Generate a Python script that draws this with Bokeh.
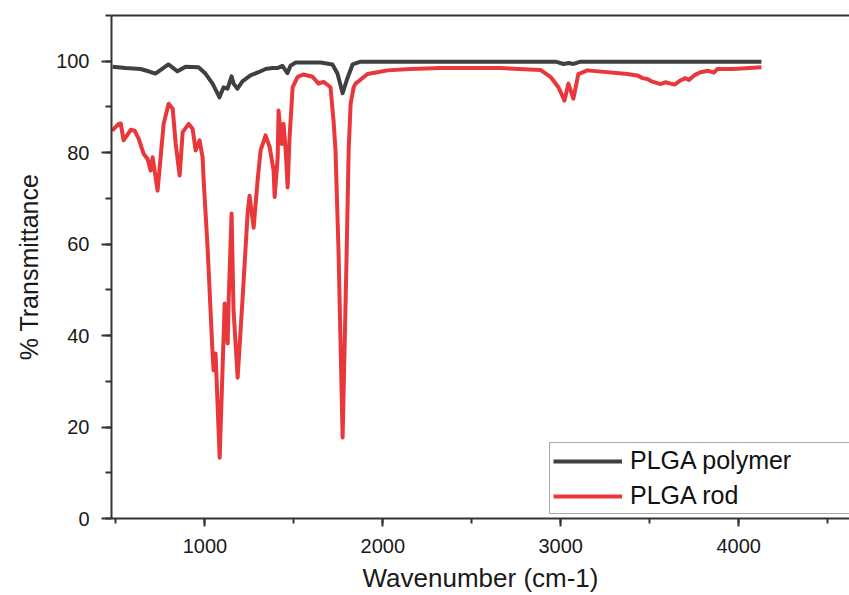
from bokeh.plotting import figure
from bokeh.models import Range1d, SingleIntervalTicker, LinearAxis, FixedTicker, Legend, LegendItem
from bokeh.embed import file_html
from bokeh.resources import INLINE

# PLGA polymer spectrum (wavenumber cm-1, % transmittance)
polymer_wn = [481, 554, 638, 683, 722, 795, 846, 891, 964, 1003, 1043, 1082, 1105,
              1127, 1150, 1161, 1183, 1211, 1256, 1301, 1341, 1380, 1408, 1436, 1464,
              1481, 1509, 1650, 1717, 1745, 1774, 1802, 1830, 1875, 2971, 3016, 3044,
              3072, 3111, 4128]
polymer_t = [98.8, 98.5, 98.3, 97.8, 97.3, 99.3, 97.8, 98.8, 98.7, 97.3, 95.1, 92.1, 94.3,
             94.0, 96.7, 95.1, 94.0, 95.6, 96.9, 97.6, 98.3, 98.5, 98.5, 99.0, 97.4,
             99.0, 99.7, 99.7, 99.3, 97.3, 93.0, 96.4, 99.3, 99.9, 99.9, 99.4, 99.6,
             99.4, 99.9, 99.9]

# PLGA rod spectrum
rod_wn = [478, 515, 527, 543, 583, 605, 628, 656, 678, 695, 706, 734, 751, 768, 796,
          819, 836, 858, 875, 909, 931, 948, 970, 987, 993, 1015, 1043, 1049, 1060,
          1083, 1111, 1128, 1133, 1150, 1161, 1184, 1212, 1240, 1251, 1274, 1296, 1313,
          1341, 1364, 1386, 1392, 1409, 1414, 1431, 1442, 1454, 1465, 1476, 1493, 1521,
          1555, 1605, 1639, 1667, 1706, 1723, 1734, 1751, 1774, 1797, 1808, 1819, 1836,
          1847, 1914, 1970, 2027, 2156, 2324, 2661, 2886, 2942, 2987, 3021, 3043, 3071,
          3099, 3150, 3375, 3430, 3460, 3487, 3510, 3543, 3560, 3590, 3616, 3640, 3673,
          3700, 3720, 3750, 3785, 3830, 3860, 3881, 3971, 4128]
rod_t = [84.8, 86.3, 86.4, 82.7, 85.0, 84.8, 83.0, 79.7, 78.6, 76.1, 79.0, 71.7, 79.0,
         86.3, 90.7, 89.6, 81.9, 75.0, 84.5, 86.3, 85.2, 80.5, 82.7, 79.0, 73.9, 59.3,
         36.1, 32.4, 36.1, 13.3, 47.0, 38.3, 47.0, 66.7, 45.5, 30.8, 48.3, 66.7, 70.6,
         63.6, 73.9, 80.5, 83.8, 81.2, 76.1, 70.3, 79.0, 89.2, 81.9, 86.3, 80.5, 72.4,
         83.4, 94.3, 96.6, 97.1, 96.6, 95.1, 95.5, 94.3, 87.0, 80.5, 58.6, 17.7, 58.6,
         80.5, 90.7, 94.3, 95.1, 97.2, 97.6, 98.0, 98.3, 98.5, 98.5, 98.1, 96.6, 94.3,
         91.4, 95.1, 91.8, 97.2, 98.0, 97.2, 96.9, 96.3, 96.1, 95.6, 95.2, 95.0, 95.4,
         95.1, 94.9, 95.8, 96.3, 95.9, 96.9, 97.6, 97.9, 97.5, 98.3, 98.3, 98.7]

series_labels = ["PLGA polymer", "PLGA rod"]
series_colors = ["#404040", "#E8383C"]

FONT = "Liberation Sans"

p = figure(width=849, height=595, output_backend="svg", toolbar_location=None,
           x_range=Range1d(475, 4623), y_range=Range1d(0, 110),
           min_border_left=111, min_border_right=0, min_border_top=15, min_border_bottom=77)
p.outline_line_color = None
p.grid.visible = False
p.background_fill_color = "white"
p.border_fill_color = "white"

for ax in (p.xaxis[0], p.yaxis[0]):
    ax.axis_line_width = 2
    ax.axis_line_color = "#333333"
    ax.major_tick_line_width = 2
    ax.minor_tick_line_width = 2
    ax.major_tick_line_color = "#333333"
    ax.minor_tick_line_color = "#333333"
    ax.major_tick_in = 0
    ax.minor_tick_in = 0
    ax.major_label_text_font = FONT
    ax.major_label_text_color = "#1a1a1a"
    ax.axis_label_text_font = FONT
    ax.axis_label_text_font_style = "normal"
    ax.axis_label_text_color = "#1a1a1a"

xa = p.xaxis[0]
xa.ticker = SingleIntervalTicker(interval=1000, num_minor_ticks=2)
xa.major_tick_out = 8
xa.minor_tick_out = 5
xa.major_label_text_font_size = "20px"
xa.major_label_standoff = 12
xa.axis_label = "Wavenumber (cm-1)"
xa.axis_label_text_font_size = "26px"
xa.axis_label_standoff = 7

ya = p.yaxis[0]
ya.ticker = SingleIntervalTicker(interval=20, num_minor_ticks=2)
ya.major_tick_out = 10
ya.minor_tick_out = 6
ya.major_label_text_font_size = "20px"
ya.major_label_standoff = 12
ya.axis_label = "% Transmittance"
ya.axis_label_text_font_size = "25px"
ya.axis_label_standoff = 10

top = LinearAxis(ticker=FixedTicker(ticks=[]), axis_line_width=2, axis_line_color="#333333",
                 major_label_text_font_size="0px", major_tick_out=0, minor_tick_out=0,
                 major_tick_in=0, minor_tick_in=0)
p.add_layout(top, "above")

r1 = p.line(polymer_wn, polymer_t, line_color=series_colors[0], line_width=4, line_join="round")
r2 = p.line(rod_wn, rod_t, line_color=series_colors[1], line_width=4, line_join="round")

legend = Legend(items=[LegendItem(label=series_labels[0], renderers=[r1]),
                       LegendItem(label=series_labels[1], renderers=[r2])],
                location=(438, 4), margin=0, padding=3, spacing=6,
                glyph_width=69, glyph_height=28, label_standoff=8, label_width=240,
                label_text_font=FONT, label_text_font_size="25px", label_text_color="#111111",
                border_line_color="#555555", border_line_width=1.5,
                background_fill_color="white", background_fill_alpha=1.0)
p.add_layout(legend)

open("out.html", "w").write(file_html(p, INLINE))
